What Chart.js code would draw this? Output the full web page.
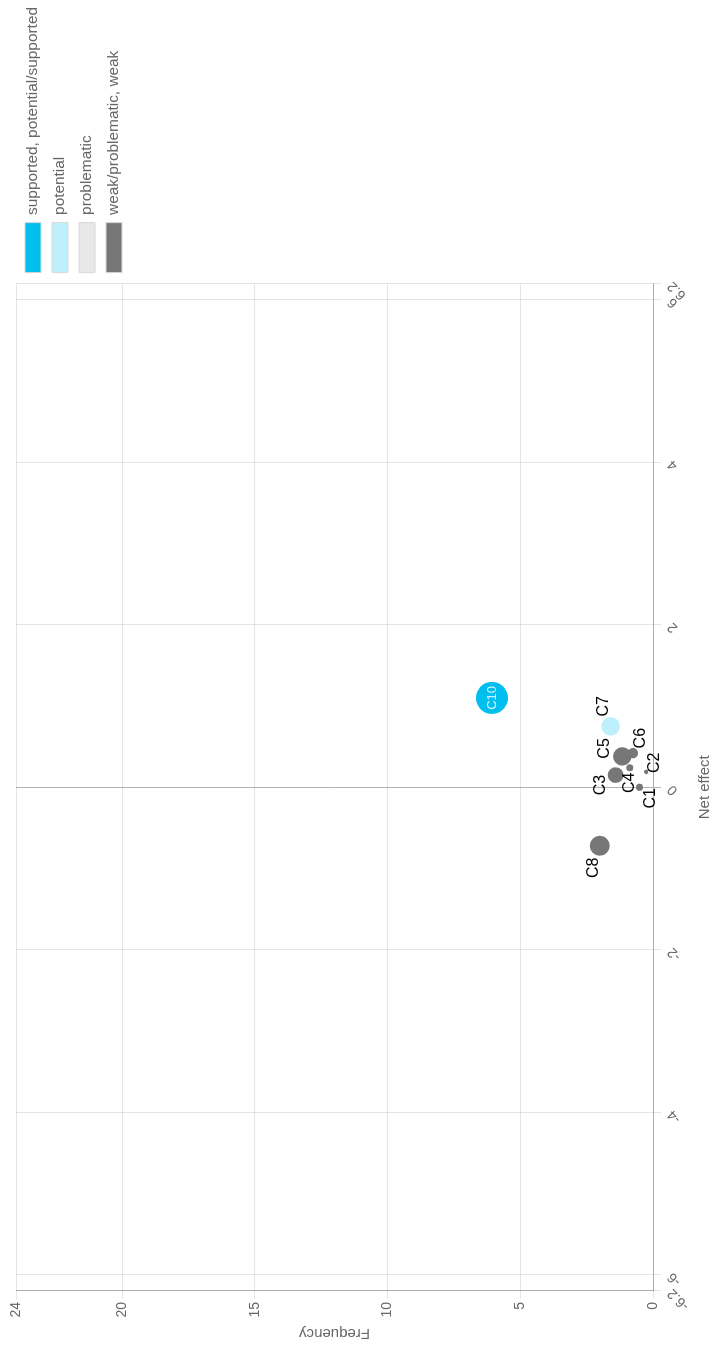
<!DOCTYPE html>
<html>
<head>
<meta charset="utf-8">
<script src="https://cdn.jsdelivr.net/npm/chart.js@4.4.1/dist/chart.umd.min.js"></script>
<style>
html, body { margin:0; padding:0; background:#fff; overflow:hidden; width:714px; height:1348px; }
#wrap { position:absolute; left:0; top:0; width:1348px; height:714px; transform-origin:0 0; transform:translateY(1348px) rotate(-90deg); }
canvas { display:block; }
</style>
</head>
<body>
<div id="wrap"><canvas id="c" width="1348" height="714"></canvas></div>
<script>
// ---- data ----
const seriesNames = ['supported, potential/supported', 'potential', 'problematic', 'weak/problematic, weak'];

const supportedNames = ['C10'];
const supportedNet   = [1.10];
const supportedFreq  = [6.07];
const supportedSize  = [16];

const potentialNames = ['C7'];
const potentialNet   = [0.75];
const potentialFreq  = [1.60];
const potentialSize  = [9.3];

const problematicNames = [];
const problematicNet   = [];
const problematicFreq  = [];
const problematicSize  = [];

const weakNames = ['C1', 'C2', 'C3', 'C4', 'C5', 'C6', 'C8'];
const weakNet   = [0.00, 0.19, 0.15, 0.24, 0.38, 0.42, -0.72];
const weakFreq  = [0.51, 0.26, 1.41, 0.88, 1.16, 0.76, 2.01];
const weakSize  = [3.6, 2.2, 7.8, 3.5, 9.2, 5.2, 10];

const netTicks  = [-6.2, -6, -4, -2, 0, 2, 4, 6, 6.2];
const freqTicks = [0, 5, 10, 15, 20, 24];

// ---- styling (not data) ----
const colors = ['#00BFEF', '#BDEFFC', '#E8E8E8', '#777777'];
const labelOffsets = {
  C10: [0, 0], C7: [20, -7], C5: [8, -18], C6: [15, 8], C3: [-10, -15],
  C4: [-15, 0], C2: [9, 8], C1: [-11, 11], C8: [-22, -6]
};

function pts(net, freq, size) {
  return net.map((v, i) => ({ x: v, y: freq[i], r: size[i] }));
}
const allNames = [supportedNames, potentialNames, problematicNames, weakNames];
const allPts = [
  pts(supportedNet, supportedFreq, supportedSize),
  pts(potentialNet, potentialFreq, potentialSize),
  pts(problematicNet, problematicFreq, problematicSize),
  pts(weakNet, weakFreq, weakSize)
];

const labelPlugin = {
  id: 'pointLabels',
  afterDatasetsDraw(chart) {
    const ctx = chart.ctx;
    ctx.save();
    ctx.textAlign = 'center';
    ctx.textBaseline = 'middle';
    chart.data.datasets.forEach((ds, di) => {
      const meta = chart.getDatasetMeta(di);
      meta.data.forEach((el, i) => {
        const name = allNames[di][i];
        const off = labelOffsets[name] || [0, 0];
        if (name === 'C10') {
          ctx.fillStyle = 'rgba(255,255,255,0.85)';
          ctx.font = '13px "Liberation Sans", Arial, sans-serif';
        } else {
          ctx.fillStyle = '#000';
          ctx.font = '16px "Liberation Sans", Arial, sans-serif';
        }
        ctx.fillText(name, el.x + off[0], el.y + off[1]);
      });
    });
    ctx.restore();
  }
};

const gridLight = 'rgba(0,0,0,0.1)';
const gridDark = 'rgba(0,0,0,0.3)';

new Chart(document.getElementById('c'), {
  type: 'bubble',
  data: {
    datasets: seriesNames.map((n, i) => ({
      label: n,
      data: allPts[i],
      backgroundColor: colors[i],
      borderColor: colors[i],
      borderWidth: 0,
      hoverBorderWidth: 0
    }))
  },
  options: {
    responsive: false,
    animation: false,
    devicePixelRatio: 1,
    font: { family: '"Liberation Sans", Arial, sans-serif' },
    color: '#666',
    layout: { padding: { top: 14, left: 1.5, right: -3, bottom: 0 } },
    plugins: {
      tooltip: { enabled: false },
      legend: {
        position: 'right',
        align: 'start',
        labels: {
          boxWidth: 50,
          boxHeight: 16,
          padding: 11,
          color: '#666',
          font: { size: 15.4 },
          generateLabels(chart) {
            return chart.data.datasets.map((ds, i) => ({
              text: ds.label,
              fillStyle: ds.backgroundColor,
              strokeStyle: '#d8d8d8',
              lineWidth: 1,
              hidden: false,
              datasetIndex: i,
              fontColor: '#666'
            }));
          }
        }
      }
    },
    scales: {
      x: {
        type: 'linear',
        min: netTicks[0],
        max: netTicks[netTicks.length - 1],
        afterBuildTicks: (s) => { s.ticks = netTicks.map(v => ({ value: v })); },
        ticks: { autoSkip: false, minRotation: 45, maxRotation: 45, color: '#666', font: { size: 14 } },
        grid: {
          color: (c) => (c.tick && c.tick.value === 0) ? gridDark : gridLight
        },
        border: { color: 'rgba(0,0,0,0.25)' },
        title: { display: true, text: 'Net effect', color: '#666', font: { size: 15 }, padding: { top: 0, bottom: 0 } }
      },
      y: {
        type: 'linear',
        min: freqTicks[0],
        max: freqTicks[freqTicks.length - 1],
        afterBuildTicks: (s) => { s.ticks = freqTicks.map(v => ({ value: v })); },
        ticks: { autoSkip: false, color: '#666', font: { size: 14 } },
        grid: { color: gridLight },
        border: { color: 'rgba(0,0,0,0.25)' },
        title: { display: true, text: 'Frequency', color: '#666', font: { size: 15 }, padding: { top: 4, bottom: 4 } }
      }
    }
  },
  plugins: [labelPlugin]
});
</script>
</body>
</html>
